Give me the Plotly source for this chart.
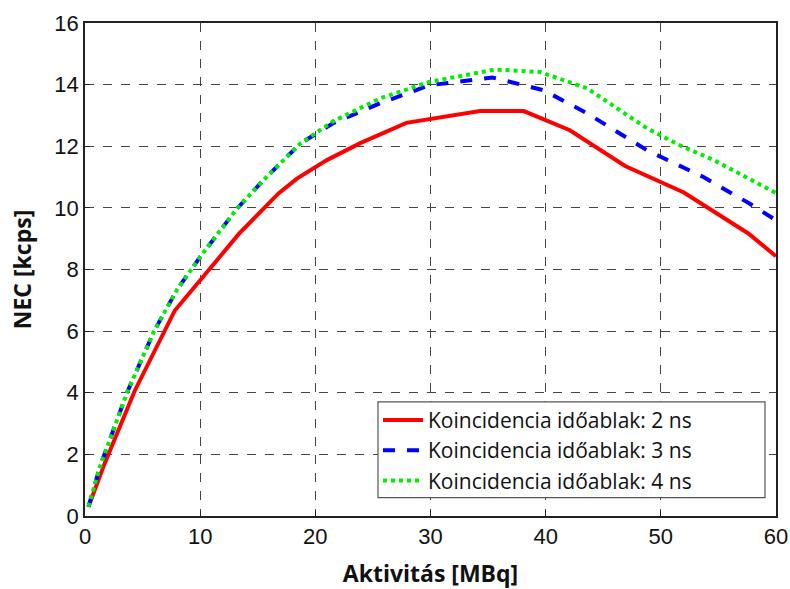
import plotly.graph_objects as go

red_x = [0.3, 1.7, 4.3, 7.8, 10.0, 13.4, 16.8, 18.4, 21.0, 23.9, 27.9, 34.3, 38.1, 42.1, 46.9, 52.0, 57.6, 60]
red_y = [0.3, 1.7, 4.05, 6.67, 7.65, 9.17, 10.47, 10.95, 11.55, 12.1, 12.76, 13.14, 13.14, 12.52, 11.36, 10.5, 9.17, 8.43]

blue_x = [0.3, 1.3, 3.7, 6.0, 8.0, 10.0, 13.2, 15.5, 18.7, 21.5, 25.6, 29.9, 35.4, 39.8, 43.6, 48.8, 53.7, 57.7, 60]
blue_y = [0.3, 1.6, 4.05, 6.0, 7.35, 8.41, 9.98, 10.9, 12.09, 12.74, 13.39, 13.98, 14.23, 13.82, 13.07, 11.87, 11.0, 10.14, 9.6]

green_x = [0.3, 1.3, 3.7, 6.0, 8.0, 10.0, 13.2, 15.5, 18.7, 21.5, 25.6, 29.9, 35.6, 39.5, 43.6, 48.8, 51.6, 54.6, 60]
green_y = [0.3, 1.6, 4.05, 6.0, 7.35, 8.41, 9.98, 10.9, 12.09, 12.8, 13.55, 14.09, 14.49, 14.41, 13.88, 12.58, 12.04, 11.55, 10.48]

names = ["Koincidencia időablak: 2 ns", "Koincidencia időablak: 3 ns", "Koincidencia időablak: 4 ns"]

fig = go.Figure()
fig.add_trace(go.Scatter(x=red_x, y=red_y, mode="lines", name=names[0],
                         line=dict(color="#ff0000", width=4, dash="solid")))
fig.add_trace(go.Scatter(x=blue_x, y=blue_y, mode="lines", name=names[1],
                         line=dict(color="#0000ff", width=4, dash="dash")))
fig.add_trace(go.Scatter(x=green_x, y=green_y, mode="lines", name=names[2],
                         line=dict(color="#00ee00", width=4, dash="dot")))

axis_common = dict(
    showgrid=True, gridcolor="#444444", griddash="dash", gridwidth=1,
    showline=True, linecolor="#222222", linewidth=1.5, mirror=True,
    ticks="inside", ticklen=5, tickcolor="#222222",
    tickfont=dict(family="Liberation Sans, Arial", size=22, color="#111111"),
    zeroline=False, automargin=False,
)

# legend frame (wider than plotly's auto legend box, as in the reference)
fig.add_shape(type="rect", xref="paper", yref="paper",
              x0=(378 - 85) / 691, x1=(765 - 85) / 691,
              y0=(515.7 - 497.3) / 492.7, y1=(515.7 - 401.7) / 492.7,
              line=dict(color="#555555", width=1.2), fillcolor="white", layer="above")

fig.update_layout(
    width=790, height=589,
    margin=dict(l=85, r=14, t=23, b=73),
    paper_bgcolor="white", plot_bgcolor="white",
    xaxis=dict(range=[0, 60], dtick=10, **axis_common,
               title=dict(text="<b>Aktivitás [MBq]</b>", standoff=22,
                          font=dict(family="Open Sans, Arial", size=23, color="#111111"))),
    yaxis=dict(range=[0, 16], dtick=2, **axis_common,
               title=dict(text="<b>NEC [kcps]</b>", standoff=16,
                          font=dict(family="Open Sans, Arial", size=23, color="#111111"))),
    legend=dict(x=(378 - 85) / 691, y=(515.7 - 399.5) / 492.7, xanchor="left", yanchor="top",
                bgcolor="rgba(0,0,0,0)", borderwidth=0,
                font=dict(family="Open Sans, Arial", size=21, color="#111111"),
                tracegroupgap=0, itemwidth=40),
    showlegend=True,
)

fig.write_html("out.html")
